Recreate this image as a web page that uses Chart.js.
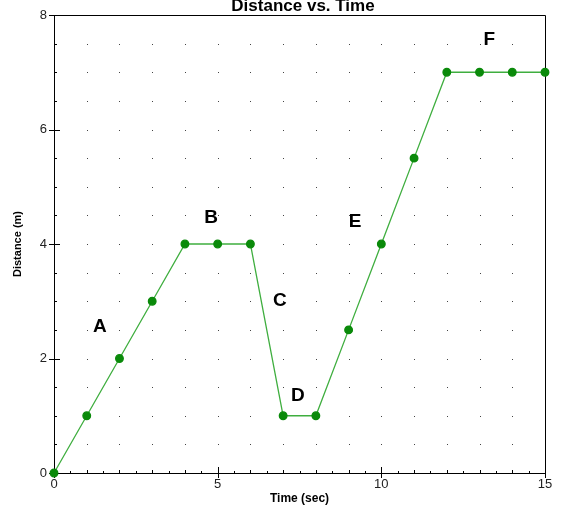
<!DOCTYPE html>
<html>
<head>
<meta charset="utf-8">
<script src="https://cdn.jsdelivr.net/npm/chart.js@4"></script>
<style>
  html, body { margin: 0; padding: 0; background: #fff; }
  #wrap { width: 577px; height: 523px; }
</style>
</head>
<body>
<div id="wrap"><canvas id="chart"></canvas></div>
<script>
// dados
const times = [0, 1, 2, 3, 4, 5, 6, 7, 8, 9, 10, 11, 12, 13, 14, 15]
const distances = [0, 1, 2, 3, 4, 4, 4, 1, 1, 2.5, 4, 5.5, 7, 7, 7, 7]
const segmentLabels = ['A', 'B', 'C', 'D', 'E', 'F']
const segmentX = [1.4, 4.8, 6.9, 7.45, 9.2, 13.3]
const segmentY = [2.55, 4.45, 3.0, 1.35, 4.38, 7.57]
const xTickLabels = [0, 5, 10, 15]
const yTickLabels = [0, 2, 4, 6, 8]

const FONT = 'Liberation Sans, Arial, sans-serif'

// grade pontilhada, ticks e letras dos trechos
const extras = {
  id: 'extras',
  beforeDatasetsDraw(chart) {
    const { ctx, chartArea: a, scales: { x, y } } = chart
    ctx.save()
    ctx.fillStyle = '#444'
    for (let tx = 1; tx < 15; tx++) {
      for (let ty = 0.5; ty < 8; ty += 0.5) {
        ctx.fillRect(Math.round(x.getPixelForValue(tx)), Math.round(y.getPixelForValue(ty)), 1, 1)
      }
    }
    ctx.strokeStyle = '#000'
    ctx.lineWidth = 1
    ctx.beginPath()
    // borda
    ctx.rect(a.left + 0.5, a.top + 0.5, a.right - a.left, a.bottom - a.top)
    // ticks do eixo y
    for (let ty = 0; ty <= 8; ty += 0.5) {
      const py = Math.round(y.getPixelForValue(ty)) + 0.5
      const major = yTickLabels.includes(ty)
      ctx.moveTo(a.left - (major ? 5 : 0), py)
      ctx.lineTo(a.left + (major ? 6 : 3), py)
    }
    // ticks do eixo x
    for (let tx = 0; tx <= 15; tx += 0.5) {
      const px = Math.round(x.getPixelForValue(tx)) + 0.5
      const major = xTickLabels.includes(tx)
      const whole = Number.isInteger(tx)
      ctx.moveTo(px, a.bottom + (major ? 5 : 0))
      ctx.lineTo(px, a.bottom - (major ? 6 : whole ? 3 : 2))
    }
    ctx.stroke()
    ctx.restore()
  },
  afterDatasetsDraw(chart) {
    const { ctx, scales: { x, y } } = chart
    ctx.save()
    ctx.fillStyle = '#000'
    ctx.textAlign = 'center'
    ctx.textBaseline = 'middle'
    ctx.font = 'bold 19px ' + FONT
    segmentLabels.forEach((t, i) => {
      ctx.fillText(t, x.getPixelForValue(segmentX[i]), y.getPixelForValue(segmentY[i]))
    })
    // título (cortado no topo como no original)
    ctx.font = 'bold 17px ' + FONT
    ctx.fillText('Distance vs. Time', 303, 6)
    ctx.restore()
  },
}

const ctx = document.getElementById('chart').getContext('2d')
new Chart(ctx, {
  type: 'line',
  data: {
    datasets: [
      {
        data: times.map((t, i) => ({ x: t, y: distances[i] })),
        borderColor: '#3fae3f',
        borderWidth: 1.3,
        pointBackgroundColor: '#0a8a0a',
        pointBorderColor: '#0a8a0a',
        pointRadius: 3.8,
        pointHoverRadius: 3.8,
        tension: 0,
        clip: 5,
      },
    ],
  },
  options: {
    responsive: true,
    maintainAspectRatio: false,
    animation: false,
    events: [],
    layout: { padding: { top: 15, right: 32, left: 0, bottom: 0 } },
    plugins: {
      legend: { display: false },
      tooltip: { enabled: false },
    },
    scales: {
      x: {
        type: 'linear',
        min: 0,
        max: 15,
        afterFit: (s) => { s.height = 50 },
        border: { display: true, color: '#000' },
        grid: { display: false, drawTicks: false },
        ticks: {
          stepSize: 5,
          padding: 4,
          color: '#222',
          font: { family: FONT, size: 13 },
        },
        title: {
          display: true,
          text: 'Time (sec)',
          color: '#000',
          font: { family: FONT, size: 12, weight: 'bold' },
          padding: { top: 0, bottom: 17 },
        },
      },
      y: {
        min: 0,
        max: 8,
        afterFit: (s) => { s.width = 54 },
        border: { display: true, color: '#000' },
        grid: { display: false, drawTicks: false },
        ticks: {
          stepSize: 2,
          padding: 7,
          color: '#222',
          font: { family: FONT, size: 13 },
        },
        title: {
          display: true,
          text: 'Distance (m)',
          color: '#000',
          font: { family: FONT, size: 11, weight: 'bold' },
          padding: { top: 11, bottom: 0 },
        },
      },
    },
  },
  plugins: [extras],
})
</script>
</body>
</html>
